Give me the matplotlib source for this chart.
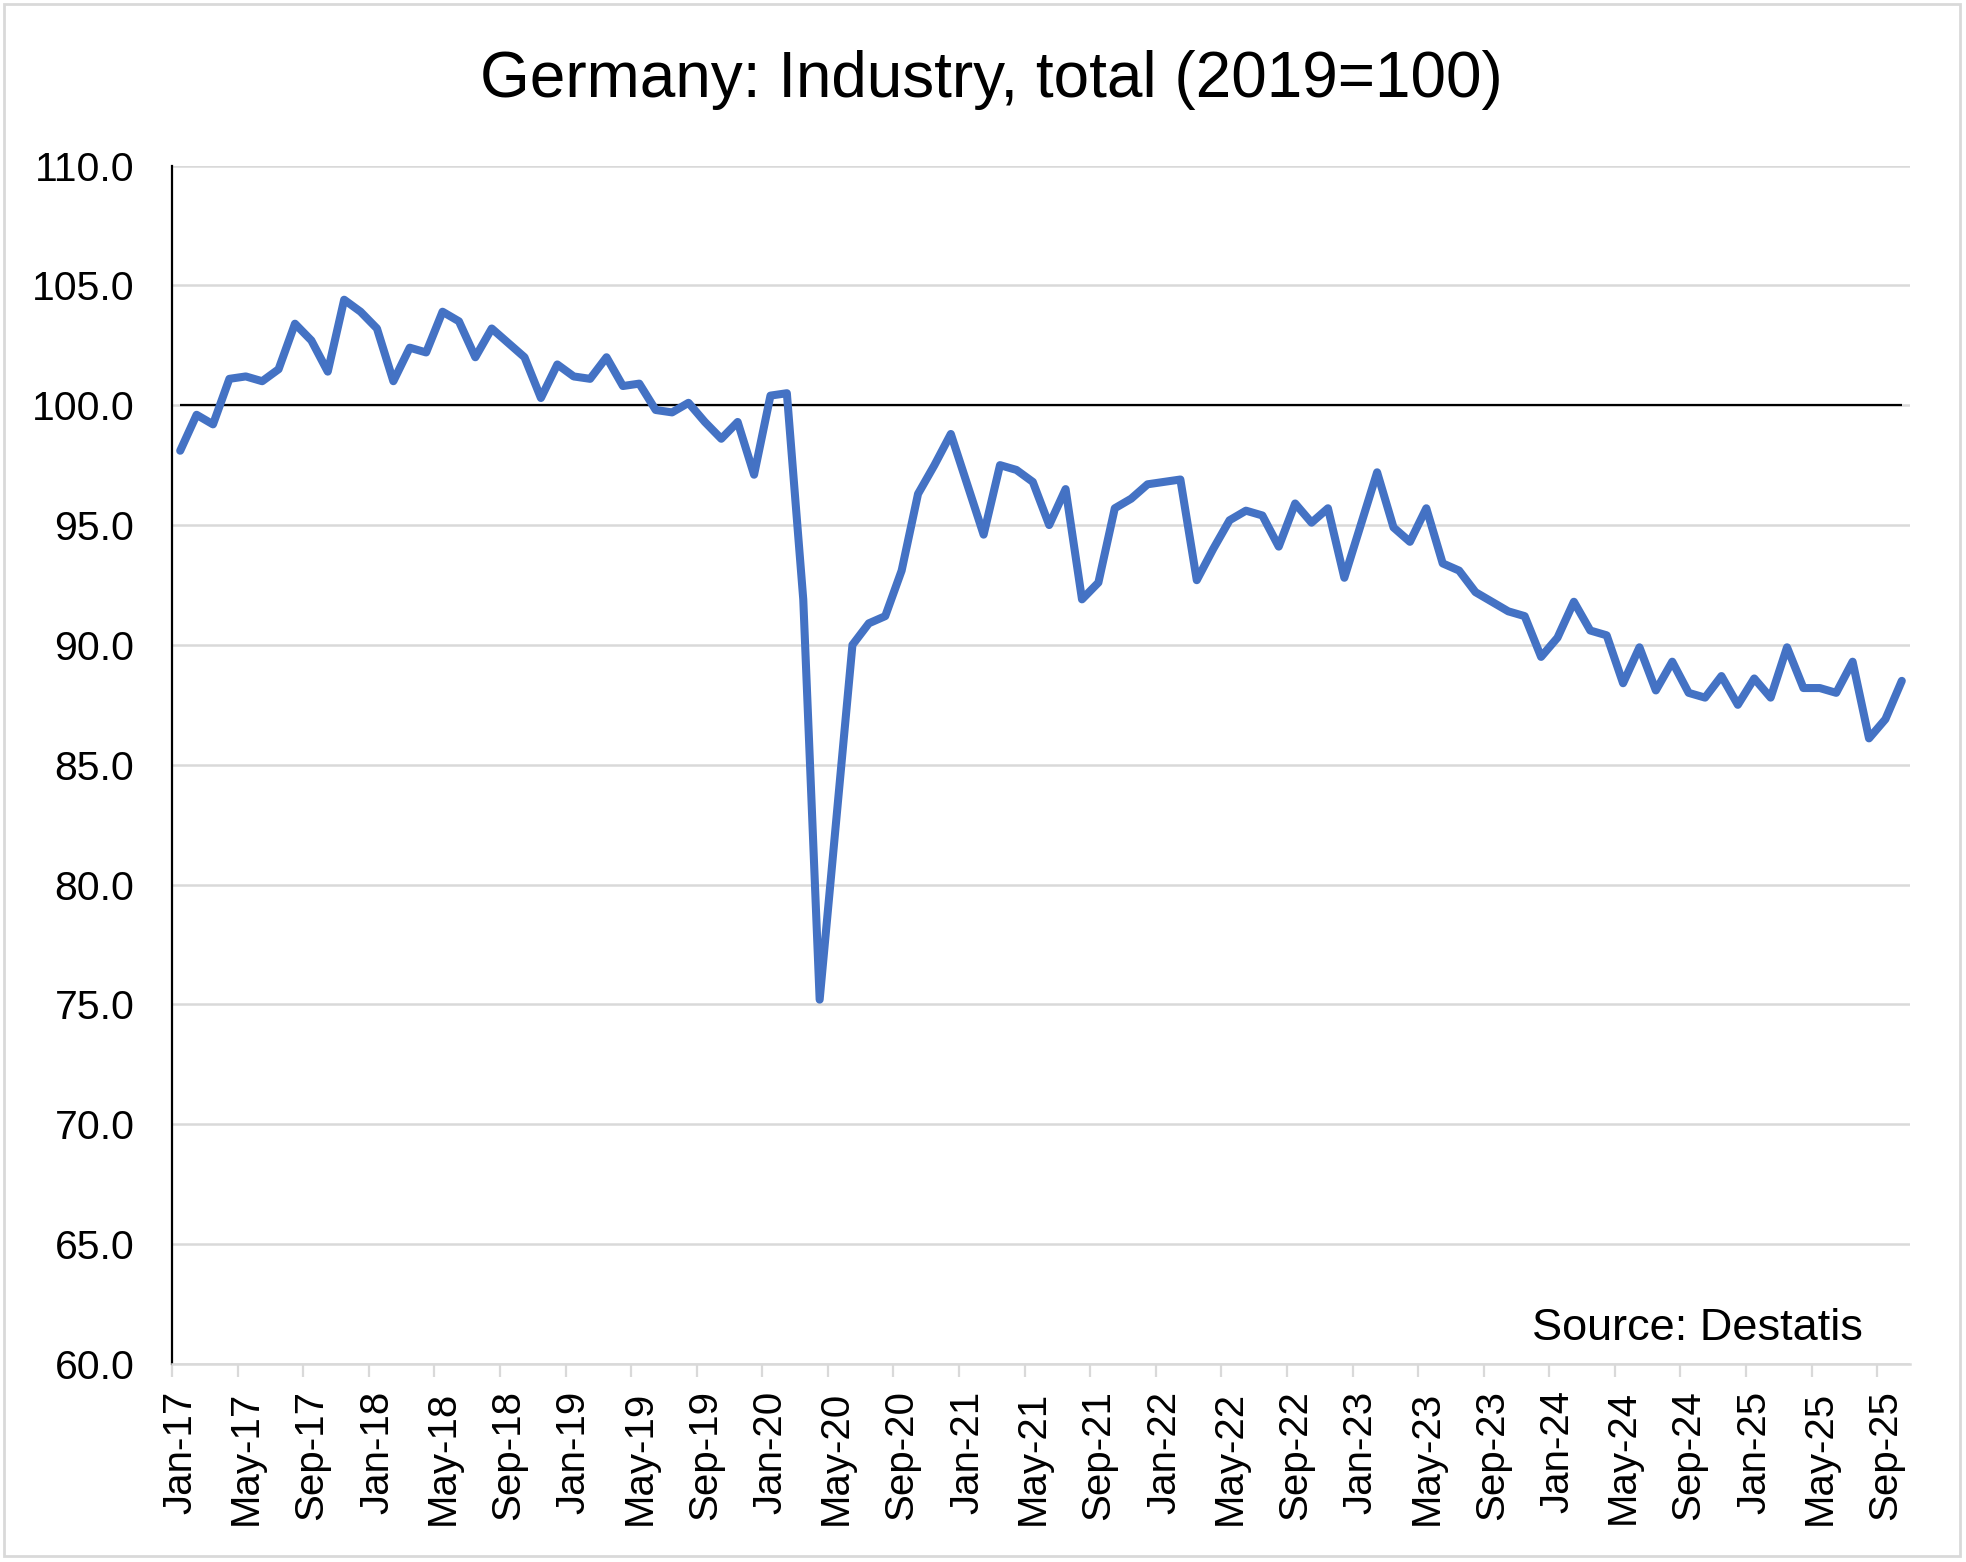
import numpy as np
import pandas as pd
import matplotlib
matplotlib.use("Agg")
import matplotlib.pyplot as plt
from matplotlib.patches import Rectangle

plt.rcParams['font.family'] = ['Liberation Sans', 'DejaVu Sans']

# monthly index, Jan-17 .. Oct-25
months = pd.date_range("2017-01-01", periods=106, freq="MS")
values = [
    98.1, 99.6, 99.2, 101.1, 101.2, 101.0, 101.5, 103.4, 102.7, 101.4, 104.4, 103.9,
    103.2, 101.0, 102.4, 102.2, 103.9, 103.5, 102.0, 103.2, 102.6, 102.0, 100.3, 101.7,
    101.2, 101.1, 102.0, 100.8, 100.9, 99.8, 99.7, 100.1, 99.3, 98.6, 99.3, 97.1,
    100.4, 100.5, 91.9, 75.2, 82.6, 90.0, 90.9, 91.2, 93.1, 96.3, 97.5, 98.8,
    96.7, 94.6, 97.5, 97.3, 96.8, 95.0, 96.5, 91.9, 92.6, 95.7, 96.1, 96.7,
    96.8, 96.9, 92.7, 94.0, 95.2, 95.6, 95.4, 94.1, 95.9, 95.1, 95.7, 92.8,
    95.0, 97.2, 94.9, 94.3, 95.7, 93.4, 93.1, 92.2, 91.8, 91.4, 91.2, 89.5,
    90.3, 91.8, 90.6, 90.4, 88.4, 89.9, 88.1, 89.3, 88.0, 87.8, 88.7, 87.5,
    88.6, 87.8, 89.9, 88.2, 88.2, 88.0, 89.3, 86.1, 86.9, 88.5,
]
base_level = 100.0
y_ticks = [60, 65, 70, 75, 80, 85, 90, 95, 100, 105, 110]
label_step = 4

title = "Germany: Industry, total (2019=100)"
source = "Source: Destatis"

W, H = 1966, 1562
fig = plt.figure(figsize=(W / 100, H / 100), dpi=100)
ax = fig.add_axes([172 / W, 1 - 1364 / H, (1910 - 172) / W, (1364 - 165.5) / H])

x = np.arange(len(values))
ax.plot(x, values, color="#4472C4", lw=5.8, solid_joinstyle="round",
        solid_capstyle="round", zorder=4)
# reference line at 100
ax.hlines(base_level, x[0], x[-1], color="black", lw=1.6, zorder=3)

ax.set_xlim(-0.5, len(values) - 0.5)
ax.set_ylim(y_ticks[0], y_ticks[-1])
ax.set_yticks(y_ticks)
ax.set_yticklabels([f"{v:.1f}" for v in y_ticks])
ax.yaxis.grid(True, color="#d9d9d9", lw=1.8, zorder=0)
ax.tick_params(axis="y", length=0, pad=27, labelsize=29.5)

# labels at category centres, tick marks at category boundaries
lab_pos = x[::label_step]
ax.set_xticks(lab_pos)
ax.set_xticklabels([m.strftime("%b-%y") for m in months[::label_step]], rotation=90)
ax.set_xticks(lab_pos - 0.5, minor=True)
ax.tick_params(axis="x", which="major", length=0, pad=19, labelsize=29)
ax.tick_params(axis="x", which="minor", length=9, width=1.6, color="#d9d9d9")

for s in ["top", "right"]:
    ax.spines[s].set_visible(False)
ax.spines["left"].set_color("black")
ax.spines["left"].set_linewidth(1.6)
ax.spines["bottom"].set_color("#d9d9d9")
ax.spines["bottom"].set_linewidth(1.8)

ax.text(0.973, 0.02, source, transform=ax.transAxes, ha="right", va="baseline",
        fontsize=32.5)
fig.text(991 / W, 1 - 80 / H, title, ha="center", va="center", fontsize=46)

# chart border
fig.patches.append(Rectangle((4 / W, 1 - 1556 / H), 1956 / W, 1552 / H,
                             transform=fig.transFigure, fill=False,
                             edgecolor="#d9d9d9", lw=2))

fig.savefig("out.png", dpi=100)
